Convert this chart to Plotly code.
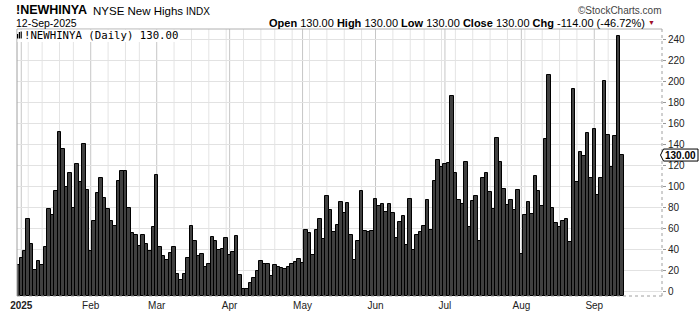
import pandas as pd
import plotly.graph_objects as go

# ---------------- data ----------------
HOLIDAYS = ["2025-01-01", "2025-01-09", "2025-01-20", "2025-02-17", "2025-04-18",
            "2025-05-26", "2025-06-19", "2025-07-04", "2025-09-01"]

VALS_DEC_JAN = [25, 32, 38, 69, 45, 20, 29, 25, 42, 78, 73, 96, 152, 136, 99, 113, 79, 121, 104, 141, 97]
VALS_FEB = [38, 67, 94, 108, 89, 78, 67, 62, 105, 115, 115, 79, 55, 54, 43, 54, 45, 38, 61]
VALS_MAR = [111, 42, 33, 30, 36, 42, 16, 11, 16, 32, 62, 48, 33, 35, 23, 26, 52, 48, 39, 40, 51]
VALS_APR = [34, 37, 53, 15, 2, 2, 8, 12, 19, 29, 26, 26, 14, 25, 23, 22, 21, 23, 26, 28, 31]
VALS_MAY = [27, 58, 55, 34, 58, 69, 50, 91, 77, 56, 63, 85, 75, 84, 54, 30, 48, 96, 57, 56, 57]
VALS_JUN = [88, 81, 83, 76, 83, 75, 51, 66, 72, 44, 88, 39, 54, 56, 62, 87, 58, 105, 125, 119]
VALS_JUL = [121, 122, 186, 113, 87, 83, 123, 61, 86, 91, 48, 108, 113, 95, 78, 146, 123, 98, 82, 87, 77, 97]
VALS_AUG = [35, 73, 85, 74, 110, 96, 81, 145, 207, 79, 65, 61, 67, 69, 47, 193, 104, 133, 129, 151, 108]
VALS_SEP = [155, 92, 108, 201, 149, 119, 148, 244, 130]

MONTH_LABELS = ["<b>2025</b>", "Feb", "Mar", "Apr", "May", "Jun", "Jul", "Aug", "Sep"]
Y_TICKS = [0, 20, 40, 60, 80, 100, 120, 140, 160, 180, 200, 220, 240]

values = (VALS_DEC_JAN + VALS_FEB + VALS_MAR + VALS_APR + VALS_MAY + VALS_JUN
          + VALS_JUL + VALS_AUG + VALS_SEP)
days = [d for d in pd.bdate_range("2024-12-31", "2025-09-12") if d.strftime("%Y-%m-%d") not in HOLIDAYS]
assert len(days) == len(values)
date_labels = [d.strftime("%d-%b-%Y") for d in days]
x = list(range(len(values)))

last = values[-1]
prev = values[-2]

# ---------------- geometry ----------------
W, H = 700, 312
L, R, T, B = 17, 662, 29, 296
Y_MIN, Y_MAX = -4.78, 250.5
X_MIN, X_MAX = -0.23, 185.5


def px(p):
    return (p - L) / (R - L)


def py(p):
    return (B - p) / (B - T)


def yv(v):
    return (v - Y_MIN) / (Y_MAX - Y_MIN)


ARIAL = "Liberation Sans, Arial, sans-serif"
MONO = "DejaVu Sans Mono, monospace"

# month / week starts
month_idx, week_idx = [], []
for i, d in enumerate(days):
    if d.year < 2025:
        continue
    p = days[i - 1]
    if d.month != p.month:
        month_idx.append(i)
    elif d.isocalendar()[1] != p.isocalendar()[1]:
        week_idx.append(i)

fig = go.Figure(go.Bar(
    x=x, y=[v - Y_MIN for v in values], base=Y_MIN,
    hovertext=date_labels,
    marker=dict(color="#404040", line=dict(color="#000000", width=1)),
))

shapes = []
for i in week_idx:
    shapes.append(dict(type="line", xref="x", yref="paper", x0=i, x1=i, y0=0, y1=1,
                       line=dict(color="#e4e4e4", width=1), layer="below"))
for i in month_idx:
    shapes.append(dict(type="line", xref="x", yref="paper", x0=i, x1=i, y0=0, y1=1,
                       line=dict(color="#c6c6c6", width=1), layer="below"))
# borders
shapes.append(dict(type="line", xref="paper", yref="paper", x0=0, x1=0, y0=0, y1=1,
                   line=dict(color="#a0a0a0", width=1)))
shapes.append(dict(type="line", xref="paper", yref="paper", x0=0, x1=1, y0=1, y1=1,
                   line=dict(color="#b0b0b0", width=1)))
shapes.append(dict(type="line", xref="paper", yref="paper", x0=0, x1=1, y0=0, y1=0,
                   line=dict(color="#a0a0a0", width=1, dash="dot")))
shapes.append(dict(type="line", xref="paper", yref="paper", x0=1, x1=1, y0=0, y1=1,
                   line=dict(color="#a0a0a0", width=1, dash="dot")))
# legend box
shapes.append(dict(type="rect", xref="paper", yref="paper", x0=px(17.5), x1=px(180), y0=py(42), y1=py(29.8),
                   fillcolor="white", line=dict(width=0)))
# legend icon (small bars)
for bx0, bx1, top in [(17.0, 18.2, 34), (18.8, 20.0, 32), (20.6, 21.8, 31.5)]:
    shapes.append(dict(type="rect", xref="paper", yref="paper", x0=px(bx0), x1=px(bx1), y0=py(38.5), y1=py(top),
                       fillcolor="black", line=dict(width=0)))
# price marker
yc = yv(last)
hh = 6 / (B - T)
shapes.append(dict(type="path", xref="paper", yref="paper",
                   path=f"M {px(660.5)},{yc} L {px(663.5)},{yc + hh} L {px(698)},{yc + hh} "
                        f"L {px(698)},{yc - hh} L {px(663.5)},{yc - hh} Z",
                   fillcolor="white", line=dict(color="black", width=1)))

chg = last - prev
pct = chg / prev * 100
row2 = (f"<b>Open</b> {last:.2f} <b>High</b> {last:.2f} <b>Low</b> {last:.2f} "
        f"<b>Close</b> {last:.2f} <b>Chg</b> {chg:.2f} ({pct:.2f}%)")

ann = [
    dict(text="<b>!NEWHINYA</b>", x=px(15), y=py(10.5), font=dict(family=ARIAL, size=12.5, color="black")),
    dict(text="NYSE New Highs", x=px(91.5), y=py(11), font=dict(family=ARIAL, size=11.5, color="black")),
    dict(text="INDX", x=px(185), y=py(11.5), font=dict(family=ARIAL, size=10, color="black")),
    dict(text="©StockCharts.com", x=px(663), y=py(10), xanchor="right",
         font=dict(family=ARIAL, size=10, color="#444444")),
    dict(text=date_labels[-1], x=px(15), y=py(23), font=dict(family=ARIAL, size=10.5, color="black")),
    dict(text=row2, x=px(646), y=py(23), xanchor="right", font=dict(family=ARIAL, size=11, color="black")),
    dict(text="▼", x=px(651.5), y=py(23), xanchor="center", font=dict(family=ARIAL, size=7, color="#a0102a")),
    dict(text=f"!NEWHINYA (Daily) {last:.2f}", x=px(23), y=py(35),
         font=dict(family=MONO, size=10.7, color="black")),
    dict(text=f"<b>{last:.2f}</b>", x=px(680.5), y=yc, xanchor="center",
         font=dict(family=ARIAL, size=10, color="black")),
]
for a in ann:
    a.setdefault("xanchor", "left")
    a.update(xref="paper", yref="paper", yanchor="middle", showarrow=False, borderpad=0)

fig.update_layout(
    width=W, height=H,
    margin=dict(l=L, r=W - R, t=T, b=H - B, pad=0, autoexpand=False),
    paper_bgcolor="white", plot_bgcolor="white",
    showlegend=False, bargap=0,
    shapes=shapes, annotations=ann,
    xaxis=dict(range=[X_MIN, X_MAX], tickmode="array", tickvals=month_idx, ticktext=MONTH_LABELS,
               showgrid=False, zeroline=False, ticks="", showline=False, automargin=False,
               ticklabelstandoff=2,
               tickfont=dict(family=ARIAL, size=10, color="#222222"), fixedrange=True),
    yaxis=dict(range=[Y_MIN, Y_MAX], side="right", tickmode="array", tickvals=Y_TICKS,
               showgrid=True, gridcolor="#e2e2e2", gridwidth=1, zeroline=False, automargin=False,
               ticks="outside", ticklen=3, tickcolor="#999999", showline=False,
               tickfont=dict(family=ARIAL, size=10, color="#222222"), fixedrange=True),
)

fig.write_html("out.html")
